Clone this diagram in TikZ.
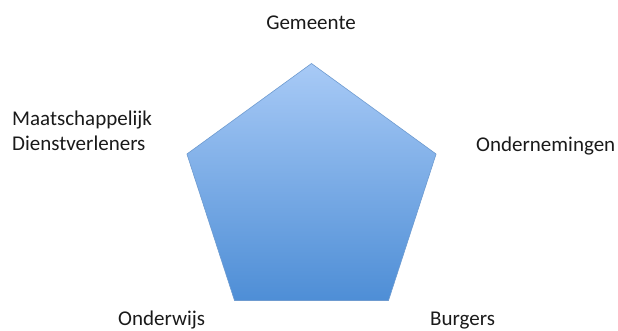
\documentclass[tikz,border=0pt]{standalone}
\usepackage{fontspec}
\setmainfont{Carlito}
\usepackage{tikz}
\usetikzlibrary{positioning,shapes.geometric}

\definecolor{pentatop}{RGB}{168,202,246}
\definecolor{pentabot}{RGB}{78,142,214}
\definecolor{pentaline}{RGB}{110,155,208}
\definecolor{labeltext}{RGB}{26,26,26}

\begin{document}
\begin{tikzpicture}[
x=1pt, y=1pt,
pentagon/.style={regular polygon, regular polygon sides=5, minimum size=262pt,
inner sep=0pt, draw=pentaline, line width=0.6pt,
top color=pentatop, bottom color=pentabot, shading angle=0},
actor/.style={font=\fontsize{21}{25}\selectfont, text=labeltext, inner sep=0pt,
align=left}
]
\useasboundingbox (0,0) rectangle (618,330);

\node[pentagon] (penta) at (311.5,135.5) {};

\node[actor, anchor=base] (gemeente) at (311,300) {Gemeente};
\node[actor, anchor=base west] (onderneming) at (476,179) {Ondernemingen};
\node[actor, anchor=base west] (maatsch) at (12,180) {Maatschappelijk\\Dienstverleners};
\node[actor, anchor=base west] (onderwijs) at (118,5) {Onderwijs};
\node[actor, anchor=base west] (burgers) at (430,5) {Burgers};
\end{tikzpicture}
\end{document}
